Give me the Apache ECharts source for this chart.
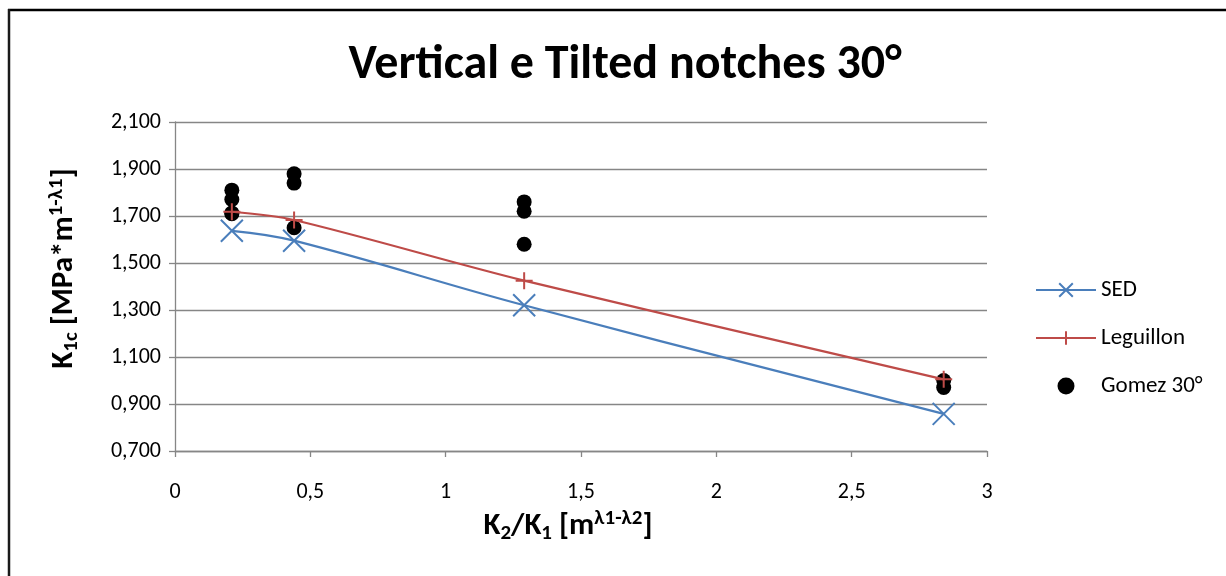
<!DOCTYPE html>
<html>
<head>
<meta charset="utf-8">
<title>Vertical e Tilted notches 30°</title>
<script src="https://cdn.jsdelivr.net/npm/echarts@6/dist/echarts.min.js"></script>
<style>
  html, body { margin: 0; padding: 0; background: #ffffff; }
  #chart { width: 1226px; height: 576px; }
</style>
</head>
<body>
<div id="chart"></div>
<script>
// K2/K1 ratios of the tested geometries
const ratioX = [0.21, 0.44, 1.29, 2.84];

// Predicted fracture toughness by the two criteria
const sedValues = [1.637, 1.595, 1.320, 0.858];
const leguillonValues = [1.718, 1.683, 1.425, 1.005];

// Experimental results (Gomez, 30°), grouped by ratio
const gomezX = [0.21, 0.21, 0.21, 0.21, 0.44, 0.44, 0.44, 1.29, 1.29, 1.29, 2.84, 2.84];
const gomezY = [1.810, 1.770, 1.713, 1.710, 1.880, 1.840, 1.650, 1.760, 1.720, 1.580, 1.000, 0.970];

const titleText = 'Vertical e Tilted notches 30°';
const seriesNames = ['SED', 'Leguillon', 'Gomez 30°'];

const FONT = "Carlito, 'Liberation Sans', Arial, sans-serif";
const AXIS_GRAY = '#868686';
const BLUE = '#4a7ebb';
const RED = '#be4b48';

const pairs = (xs, ys) => xs.map((x, i) => [x, ys[i]]);

// Diagonal cross and plus markers drawn as strokes
const crossSymbol = 'path://M0,0L20,20M20,0L0,20';
const plusSymbol = 'path://M10,0L10,20M0,10L20,10';

const nameRich = {
  b:   { fontFamily: FONT, fontWeight: 'bold', fontSize: 31, lineHeight: 36, color: '#000' },
  sub: { fontFamily: FONT, fontWeight: 'bold', fontSize: 21, lineHeight: 19, verticalAlign: 'bottom', color: '#000' },
  sup: { fontFamily: FONT, fontWeight: 'bold', fontSize: 21, lineHeight: 21, verticalAlign: 'top', color: '#000' }
};

const chart = echarts.init(document.getElementById('chart'), null, { renderer: 'canvas' });

chart.setOption({
  animation: false,
  backgroundColor: '#ffffff',
  title: {
    text: titleText,
    left: 620,
    top: 37,
    textAlign: 'center',
    textStyle: { fontFamily: FONT, fontWeight: 'bold', fontSize: 48, color: '#000' }
  },
  grid: { left: 175, right: 239, top: 122, bottom: 125, containLabel: false },
  legend: {
    orient: 'vertical',
    left: 1030,
    top: 273,
    itemWidth: 60,
    itemHeight: 17,
    itemGap: 24,
    data: seriesNames,
    textStyle: { fontFamily: FONT, fontSize: 23, lineHeight: 24, color: '#000' }
  },
  xAxis: {
    type: 'value',
    min: 0,
    max: 3,
    interval: 0.5,
    name: '{b|K}{sub|2}{b|/K}{sub|1}{b| [m}{sup|λ1-λ2}{b|]}',
    nameLocation: 'middle',
    nameGap: 57,
    nameTextStyle: { rich: nameRich, padding: [0, 26, 0, 0] },
    axisLine: { lineStyle: { color: AXIS_GRAY, width: 1.3 } },
    axisTick: { show: true, inside: false, length: 6, lineStyle: { color: AXIS_GRAY, width: 1.3 } },
    axisLabel: {
      margin: 30,
      fontFamily: FONT,
      fontSize: 22,
      color: '#000',
      formatter: v => String(v).replace('.', ',')
    },
    splitLine: { show: false }
  },
  yAxis: {
    type: 'value',
    min: 0.7,
    max: 2.1,
    interval: 0.2,
    name: '{b|K}{sub|1c}{b| [MPa*m}{sup|1-λ1}{b|]}',
    nameLocation: 'middle',
    nameRotate: 90,
    nameGap: 93,
    nameTextStyle: { rich: nameRich, padding: [0, 0, 0, 36] },
    axisLine: { show: true, lineStyle: { color: AXIS_GRAY, width: 1.3 } },
    axisTick: { show: true, inside: false, length: 6, lineStyle: { color: AXIS_GRAY, width: 1.3 } },
    axisLabel: {
      margin: 14,
      fontFamily: FONT,
      fontSize: 22,
      color: '#000',
      formatter: v => v.toFixed(3).replace('.', ',')
    },
    splitLine: { show: true, lineStyle: { color: AXIS_GRAY, width: 1.3 } }
  },
  series: [
    {
      name: seriesNames[0],
      type: 'line',
      data: pairs(ratioX, sedValues),
      smooth: 0.4,
      symbol: crossSymbol,
      symbolSize: 22,
      showAllSymbol: true,
      lineStyle: { color: BLUE, width: 2.2 },
      itemStyle: { color: BLUE, borderColor: BLUE, borderWidth: 2 }
    },
    {
      name: seriesNames[1],
      type: 'line',
      data: pairs(ratioX, leguillonValues),
      smooth: 0.3,
      symbol: plusSymbol,
      symbolSize: 17,
      lineStyle: { color: RED, width: 2.2 },
      itemStyle: { color: RED, borderColor: RED, borderWidth: 2 }
    },
    {
      name: seriesNames[2],
      type: 'scatter',
      data: pairs(gomezX, gomezY),
      symbol: 'circle',
      symbolSize: 15,
      itemStyle: { color: '#000000', opacity: 1 }
    }
  ],
  graphic: [
    { type: 'line', shape: { x1: 8, y1: 10, x2: 1226, y2: 10 }, style: { stroke: '#000', lineWidth: 2.5 }, silent: true },
    { type: 'line', shape: { x1: 9, y1: 9, x2: 9, y2: 576 }, style: { stroke: '#1a1a1a', lineWidth: 2.5 }, silent: true }
  ]
});
</script>
</body>
</html>
